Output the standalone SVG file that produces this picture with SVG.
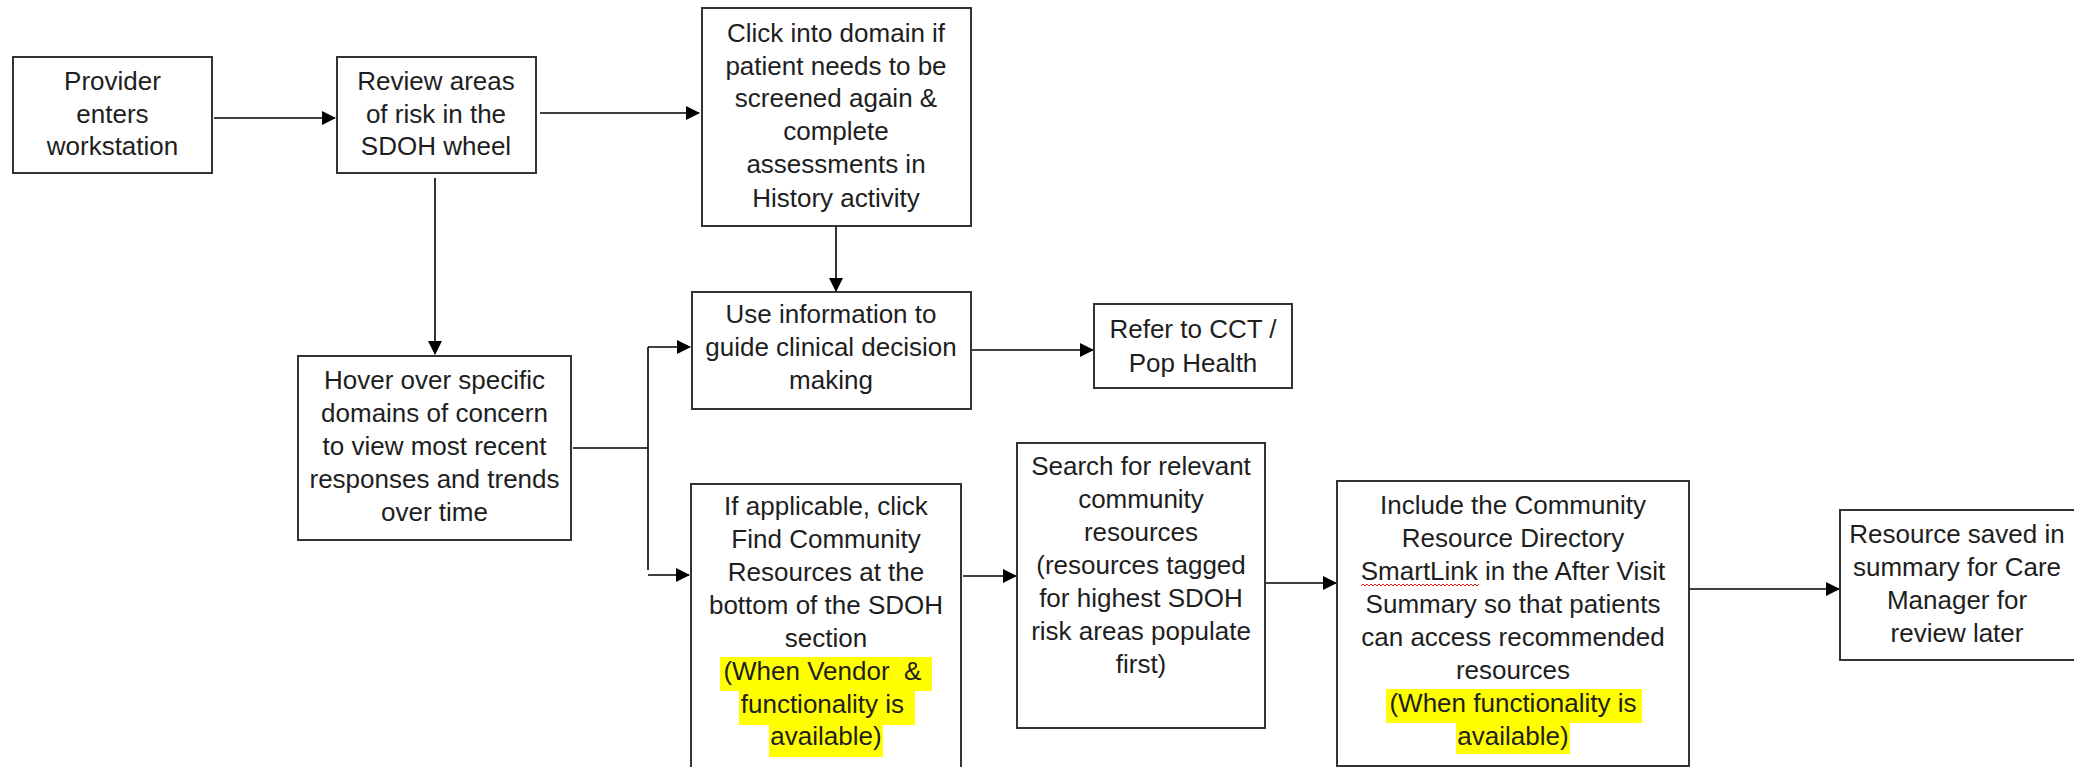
<svg xmlns="http://www.w3.org/2000/svg" width="2074" height="767" viewBox="0 0 2074 767">
<defs>
<style>
.box{fill:#fff;stroke:#333;stroke-width:2}
.lbl{font-family:"Liberation Sans",Arial,sans-serif;font-size:26px;fill:#1e1e1e;text-anchor:middle}
.con{fill:none;stroke:#000;stroke-width:1.6}
.hl{fill:#ffff00}
</style>
<marker id="ah" viewBox="0 0 14 14" refX="13" refY="7" markerWidth="14" markerHeight="14" markerUnits="userSpaceOnUse" orient="auto">
<path d="M0,0 L14,7 L0,14 Z" fill="#000"/>
</marker>
</defs>
<rect width="2074" height="767" fill="#fff"/>

<g id="connectors">
<line class="con" x1="214" y1="118" x2="335" y2="118" marker-end="url(#ah)"/>
<line class="con" x1="540" y1="113" x2="699" y2="113" marker-end="url(#ah)"/>
<line class="con" x1="435" y1="178" x2="435" y2="354" marker-end="url(#ah)"/>
<line class="con" x1="836" y1="226" x2="836" y2="291" marker-end="url(#ah)"/>
<polyline class="con" points="573,448 648,448"/>
<polyline class="con" points="648,347 648,570"/>
<line class="con" x1="648" y1="347" x2="690" y2="347" marker-end="url(#ah)"/>
<line class="con" x1="648" y1="575" x2="689" y2="575" marker-end="url(#ah)"/>
<line class="con" x1="971" y1="350" x2="1093" y2="350" marker-end="url(#ah)"/>
<line class="con" x1="963" y1="576" x2="1016" y2="576" marker-end="url(#ah)"/>
<line class="con" x1="1266" y1="583" x2="1336" y2="583" marker-end="url(#ah)"/>
<line class="con" x1="1690" y1="589" x2="1839" y2="589" marker-end="url(#ah)"/>
</g>

<g id="n1">
<rect class="box" x="13" y="57" width="199" height="116"/>
<text class="lbl"><tspan x="112.5" y="90">Provider</tspan><tspan x="112.5" y="123">enters</tspan><tspan x="112.5" y="155">workstation</tspan></text>
</g>

<g id="n2">
<rect class="box" x="337" y="57" width="199" height="116"/>
<text class="lbl"><tspan x="436" y="90">Review areas</tspan><tspan x="436" y="123">of risk in the</tspan><tspan x="436" y="155">SDOH wheel</tspan></text>
</g>

<g id="n3">
<rect class="box" x="702" y="8" width="269" height="218"/>
<text class="lbl"><tspan x="836" y="42">Click into domain if</tspan><tspan x="836" y="75">patient needs to be</tspan><tspan x="836" y="107">screened again &amp;</tspan><tspan x="836" y="140">complete</tspan><tspan x="836" y="173">assessments in</tspan><tspan x="836" y="207">History activity</tspan></text>
</g>

<g id="n4">
<rect class="box" x="692" y="292" width="279" height="117"/>
<text class="lbl"><tspan x="831" y="323">Use information to</tspan><tspan x="831" y="356">guide clinical decision</tspan><tspan x="831" y="389">making</tspan></text>
</g>

<g id="n5">
<rect class="box" x="1094" y="304" width="198" height="84"/>
<text class="lbl"><tspan x="1193" y="338">Refer to CCT /</tspan><tspan x="1193" y="372">Pop Health</tspan></text>
</g>

<g id="n6">
<rect class="box" x="298" y="356" width="273" height="184"/>
<text class="lbl"><tspan x="434.5" y="389">Hover over specific</tspan><tspan x="434.5" y="422">domains of concern</tspan><tspan x="434.5" y="455">to view most recent</tspan><tspan x="434.5" y="488">responses and trends</tspan><tspan x="434.5" y="521">over time</tspan></text>
</g>

<g id="n7">
<rect class="box" x="691" y="484" width="270" height="300"/>
<rect class="hl" x="720" y="657" width="212" height="34"/>
<rect class="hl" x="739" y="690" width="176" height="35"/>
<rect class="hl" x="769" y="724" width="114" height="33"/>
<text class="lbl" style="white-space:pre"><tspan x="826" y="515">If applicable, click</tspan><tspan x="826" y="548">Find Community</tspan><tspan x="826" y="581">Resources at the</tspan><tspan x="826" y="614">bottom of the SDOH</tspan><tspan x="826" y="647">section</tspan><tspan x="826" y="680">(When Vendor  &amp; </tspan><tspan x="826" y="713">functionality is </tspan><tspan x="826" y="745">available)</tspan></text>
</g>

<g id="n8">
<rect class="box" x="1017" y="443" width="248" height="285"/>
<text class="lbl"><tspan x="1141" y="475">Search for relevant</tspan><tspan x="1141" y="508">community</tspan><tspan x="1141" y="541">resources</tspan><tspan x="1141" y="574">(resources tagged</tspan><tspan x="1141" y="607">for highest SDOH</tspan><tspan x="1141" y="640">risk areas populate</tspan><tspan x="1141" y="673">first)</tspan></text>
</g>

<g id="n9">
<rect class="box" x="1337" y="481" width="352" height="285"/>
<rect class="hl" x="1386" y="689" width="256" height="34"/>
<rect class="hl" x="1456" y="722" width="114" height="32"/>
<text class="lbl"><tspan x="1513" y="514">Include the Community</tspan><tspan x="1513" y="547">Resource Directory</tspan><tspan x="1513" y="580">SmartLink in the After Visit</tspan><tspan x="1513" y="613">Summary so that patients</tspan><tspan x="1513" y="646">can access recommended</tspan><tspan x="1513" y="679">resources</tspan><tspan x="1513" y="712">(When functionality is</tspan><tspan x="1513" y="745">available)</tspan></text>
<path d="M1361,586 l2,-2 l2,2 l2,-2 l2,2 l2,-2 l2,2 l2,-2 l2,2 l2,-2 l2,2 l2,-2 l2,2 l2,-2 l2,2 l2,-2 l2,2 l2,-2 l2,2 l2,-2 l2,2 l2,-2 l2,2 l2,-2 l2,2 l2,-2 l2,2 l2,-2 l2,2 l2,-2 l2,2 l2,-2 l2,2 l2,-2 l2,2 l2,-2 l2,2 l2,-2 l2,2 l2,-2 l2,2 l2,-2 l2,2 l2,-2 l2,2 l2,-2 l2,2 l2,-2 l2,2 l2,-2 l2,2 l2,-2 l2,2 l2,-2 l2,2 l2,-2 l2,2 l2,-2 l2,2 l2,-2" fill="none" stroke="#e02020" stroke-width="1"/>
</g>

<g id="n10">
<rect class="box" x="1840" y="510" width="260" height="150"/>
<text class="lbl"><tspan x="1957" y="543">Resource saved in</tspan><tspan x="1957" y="576">summary for Care</tspan><tspan x="1957" y="609">Manager for</tspan><tspan x="1957" y="642">review later</tspan></text>
</g>
</svg>
